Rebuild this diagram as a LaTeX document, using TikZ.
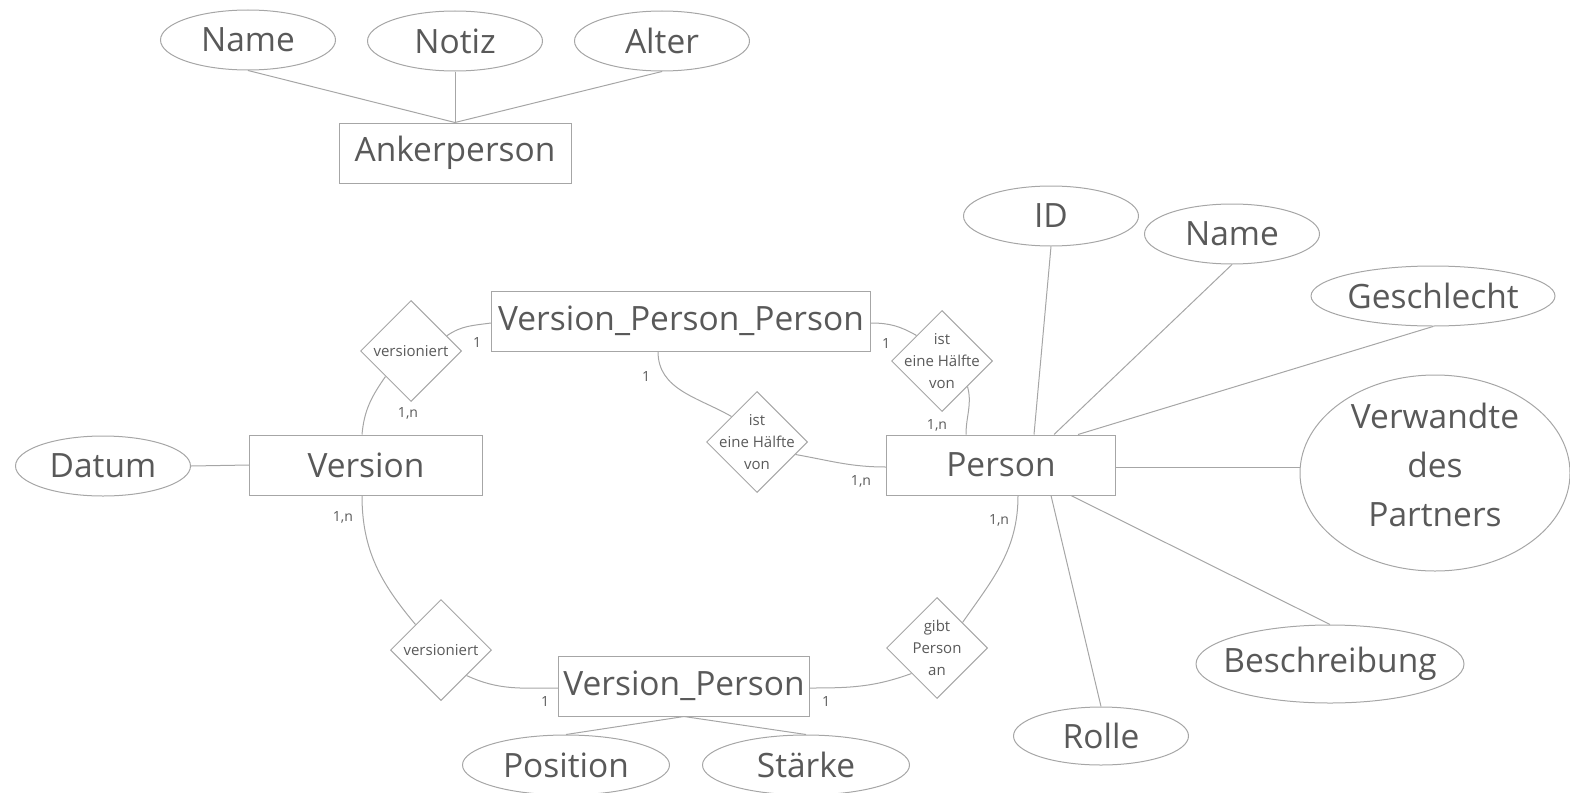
\documentclass[tikz,border=0pt]{standalone}
\usepackage{fontspec}
\setmainfont{Open Sans}
\usetikzlibrary{shapes.geometric,calc}
\definecolor{txt}{HTML}{595959}
\definecolor{ln}{HTML}{A6A6A6}
\tikzset{
  bigfont/.style={font=\fontsize{33.5}{49}\selectfont, text=txt},
  smallfont/.style={font=\fontsize{15}{22}\selectfont, text=txt},
  ent/.style={draw=ln, line width=1pt, rectangle, minimum height=60, inner sep=0, bigfont},
  attrshape/.style={draw=ln, line width=1pt, ellipse, inner sep=0, minimum width=175, minimum height=60},
  attr/.style={attrshape, label={[bigfont, align=center, inner sep=0]center:#1}},
  rel/.style={draw=ln, line width=1pt, diamond, minimum width=101, minimum height=101, inner sep=0,
              label={[smallfont, align=center, inner sep=0]center:#1}},
  card/.style={text=txt, font=\fontsize{14}{16}\selectfont, inner sep=0},
  conn/.style={draw=ln, line width=1pt}
}
\begin{document}
\begin{tikzpicture}[x=1pt,y=-1pt]
\useasboundingbox (0,0) rectangle (1570,792);
% Ankerperson
\node[attr=Name] (aname) at (248,40) {};
\node[attr=Notiz] (anotiz) at (455,41) {};
\node[attr=Alter] (aalter) at (662,41) {};
\node[ent, minimum width=232] (ank) at (455,153) {Ankerperson};
\draw[conn] (aname.south) -- (ank.north);
\draw[conn] (anotiz.south) -- (ank.north);
\draw[conn] (aalter.south) -- (ank.north);
% entities
\node[ent, minimum width=233] (ver) at (366,465) {Version};
\node[ent, minimum width=379] (vpp) at (681,321) {Version\_Person\_Person};
\node[ent, minimum width=229] (per) at (1001,465) {Person};
\node[ent, minimum width=251] (vp) at (684,686) {Version\_Person};
% attributes
\node[attr=Datum] (dat) at (103,466) {};
\node[attr=ID] (id) at (1051,216) {};
\node[attr=Name] (pname) at (1232,234) {};
\node[attr=Geschlecht, minimum width=244] (gesch) at (1433,296) {};
\node[attrshape, minimum width=270, minimum height=196,
      label={[bigfont, align=center, inner sep=0, yshift=8]center:Verwandte\\des\\Partners}] (verw) at (1435,473) {};
\node[attr=Beschreibung, minimum width=268, minimum height=78] (besch) at (1330,664) {};
\node[attr=Rolle, minimum height=58] (rolle) at (1101,736) {};
\node[attr=Position, minimum width=207] (pos) at (566,765) {};
\node[attr=Stärke, minimum width=207] (st) at (806,765) {};
% relationships
\node[rel=versioniert] (r1) at (411,351) {};
\node[rel={ist\\eine Hälfte\\von}] (r2) at (757,442) {};
\node[rel={ist\\eine Hälfte\\von}] (r3) at (942,361) {};
\node[rel=versioniert] (r4) at (441,650) {};
\node[rel={gibt\\Person\\an}] (r5) at (937,648) {};
% attribute lines
\draw[conn] (dat.east) -- (ver.west);
\draw[conn] ([xshift=33]per.north) -- (id.south);
\draw[conn] ([xshift=53]per.north) -- (pname.south);
\draw[conn] ([xshift=77]per.north) -- (gesch.south);
\draw[conn] ([yshift=-2]per.east) -- ([yshift=-2]per.east -| verw.west);
\draw[conn] ([xshift=70]per.south) -- (besch.north);
\draw[conn] ([xshift=50]per.south) -- (rolle.north);
\draw[conn] (vp.south) -- (pos.north);
\draw[conn] (vp.south) -- (st.north);
% relationship curves
\draw[conn] ([xshift=-4]ver.north) to[out=85,in=235] (r1.south west);
\draw[conn] (r1.23) to[out=35,in=188] ([yshift=-2]vpp.west);
\draw[conn] ([xshift=-23]vpp.south) to[out=-90,in=150] (r2.north west);
\draw[conn] (r2.-18) to[out=-10,in=180] ([yshift=-2]per.west);
\draw[conn] ([yshift=-2]vpp.east) to[out=0,in=150] (r3.north west);
\draw[conn] (r3.south east) to[out=-75,in=90] ([xshift=-35]per.north);
\draw[conn] ([xshift=-4]ver.south) to[out=-90,in=130] (r4.north west);
\draw[conn] (r4.south east) to[out=-25,in=180] ([yshift=-2]vp.west);
\draw[conn] ([yshift=-2]vp.east) to[out=0,in=200] (r5.south west);
\draw[conn] (r5.north east) to[out=55,in=-90] ([xshift=17]per.south);
% cardinalities
\node[card] (c1) at (477,342) {1};
\node[card] (c2) at (408,413) {1,n};
\node[card] (c3) at (646,376) {1};
\node[card] (c4) at (861,481) {1,n};
\node[card] (c5) at (886,343) {1};
\node[card] (c6) at (937,425) {1,n};
\node[card] (c7) at (343,517) {1,n};
\node[card] (c8) at (545,701) {1};
\node[card] (c9) at (826,701) {1};
\node[card] (c10) at (999,520) {1,n};
\end{tikzpicture}
\end{document}
